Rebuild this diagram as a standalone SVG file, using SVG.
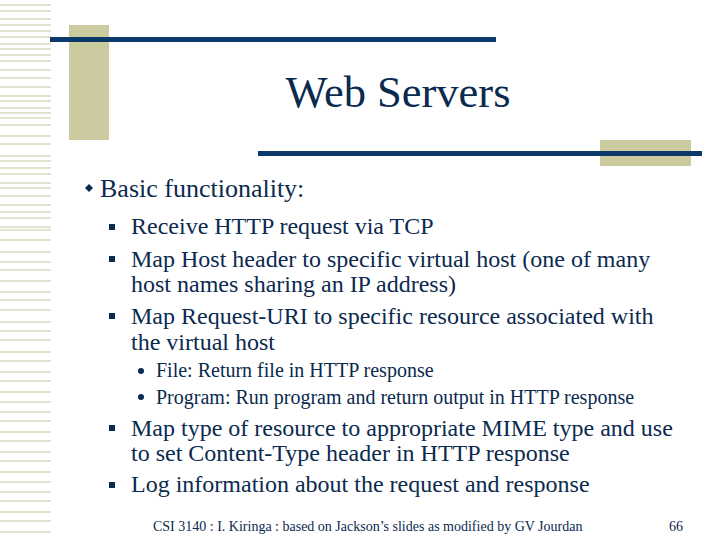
<svg xmlns="http://www.w3.org/2000/svg" width="720" height="540" viewBox="0 0 720 540">
<style>
text{font-family:'Liberation Serif','Times New Roman','DejaVu Serif',serif;fill:#0b2a4f}
.s{stroke:#e2e2cf;stroke-width:2}
</style>
<rect width="720" height="540" fill="#fff"/>
<g id="stripes">
<path class="s" d="M0 5H51M0 11H51M0 19H51M0 25H51M0 31H51M0 37H51M0 44H51M0 49H51M0 55H51M0 61H51M0 70H51M0 78H51M0 87H51M0 96H51M0 101H51M0 108H51M0 113H51M0 118H51M0 125H51M0 136H51M0 144H51M0 156H51M0 161H51M0 168H51M0 174H51M0 183H51M0 188H51M0 196H51M0 205H51M0 212H51M0 218H51M0 227H51M0 230H51M0 240H51M0 252H51M0 262H51M0 270H51M0 281H51M0 292H51M0 300H51M0 310H51M0 322H51M0 331H51M0 340H51M0 352H51M0 361H51M0 372H51M0 381H51M0 392H51M0 402H51M0 412H51M0 421H51M0 432H51M0 441H51M0 452H51M0 461H51M0 472H51M0 482H51M0 492H51M0 501H51M0 512H51M0 521H51M0 532H51"/>
</g>
<rect x="69" y="25" width="40" height="115" fill="#cbcb9f"/>
<rect x="50" y="37" width="446" height="5" fill="#0b3a6a"/>
<rect x="600" y="140" width="91" height="26" fill="#cbcb9f"/>
<rect x="258" y="151" width="444" height="5" fill="#0b3a6a"/>
<text x="398" y="107" font-size="44.5" text-anchor="middle">Web Servers</text>
<g id="body">
<path d="M89 184l4 4-4 4-4-4z" fill="#0b2a4f"/>
<text x="100" y="197" font-size="26">Basic functionality:</text>
<g fill="#0b2a4f"><rect x="109" y="224" width="6" height="6"/><rect x="109" y="256" width="6" height="6"/><rect x="109" y="313" width="6" height="6"/><rect x="109" y="425" width="6" height="6"/><rect x="109" y="482" width="6" height="6"/>
<circle cx="141" cy="371" r="3"/><circle cx="141" cy="397" r="3"/></g>
<g font-size="24">
<text x="131" y="234">Receive HTTP request via TCP</text>
<text x="131" y="267">Map Host header to specific virtual host (one of many</text>
<text x="131" y="292">host names sharing an IP address)</text>
<text x="131" y="324">Map Request-URI to specific resource associated with</text>
<text x="131" y="350">the virtual host</text>
<text x="131" y="436">Map type of resource to appropriate MIME type and use</text>
<text x="131" y="461">to set Content-Type header in HTTP response</text>
<text x="131" y="492">Log information about the request and response</text>
</g>
<g font-size="20">
<text x="156" y="377">File: Return file in HTTP response</text>
<text x="156" y="404">Program: Run program and return output in HTTP response</text>
</g>
<text x="153" y="531" font-size="14">CSI 3140 : I. Kiringa : based on Jackson’s slides as modified by GV Jourdan</text>
<text x="683" y="531" font-size="14" text-anchor="end">66</text>
</g>
</svg>
